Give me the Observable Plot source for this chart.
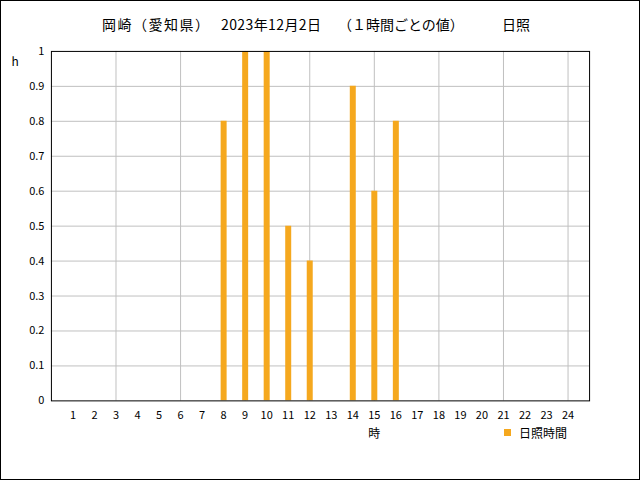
<!DOCTYPE html>
<html>
<head>
<meta charset="utf-8">
<script src="https://cdn.jsdelivr.net/npm/d3@7"></script>
<script src="https://cdn.jsdelivr.net/npm/@observablehq/plot@0.6"></script>
<style>
  html, body { margin: 0; padding: 0; background: #fff; }
  #wrap { position: relative; width: 640px; height: 480px; box-sizing: border-box; border: 1px solid #000; overflow: hidden; font-family: "Noto Sans CJK JP", sans-serif; }
  .tseg { position: absolute; top: 13px; font-size: 14px; white-space: pre; color: #000; line-height: 20px; }
  #chart { position: absolute; left: -1px; top: -1px; }
  #legend { position: absolute; left: 503px; top: 423px; font-size: 12px; white-space: pre; display: flex; align-items: center; }
  #legend .sw { width: 7px; height: 7px; background: #f5a81e; margin-right: 8px; }
</style>
</head>
<body>
<div id="wrap">
  <div id="chart"></div>
  <div id="legend"><span class="sw"></span><span id="legtext"></span></div>
</div>
<script>
const titleParts = ["岡崎（愛知県）", "2023年12月2日", "（１時間ごとの値）", "日照"];
const hours = d3.range(1, 25);
const sunshine = [0,0,0,0,0,0,0,0.8,1.0,1.0,0.5,0.4,0,0.9,0.6,0.8,0,0,0,0,0,0,0,0];
const xTicks = d3.range(1, 25);
const xGrid = [3,6,9,12,15,18,21,24];
const yTicks = [0,0.1,0.2,0.3,0.4,0.5,0.6,0.7,0.8,0.9,1];
const yUnit = "h";
const xUnit = "時";
const seriesName = "日照時間";
const barColor = "#f5a81e";

const data = hours.map((h, i) => ({hour: h, value: sunshine[i]})).filter(d => d.value > 0);

const wrap = document.getElementById("wrap");
const segLefts = [101, 220, 337, 501];
const segSpacing = [1.5, 0.4, 0, 0];
titleParts.forEach((t, i) => {
  const s = document.createElement("div");
  s.className = "tseg";
  s.style.left = segLefts[i] + "px";
  s.style.letterSpacing = segSpacing[i] + "px";
  s.textContent = t;
  wrap.appendChild(s);
});
document.getElementById("legtext").textContent = seriesName;

const fontFam = "Noto Sans CJK JP, sans-serif";
const chart = Plot.plot({
  width: 640,
  height: 480,
  marginLeft: 51,
  marginRight: 50,
  marginTop: 51,
  marginBottom: 79,
  style: {fontFamily: fontFam, fontSize: "11px", color: "#000", background: "transparent"},
  x: {domain: [0, 25], axis: null},
  y: {domain: [0, 1], axis: null},
  marks: [
    Plot.gridY(yTicks.slice(1, -1), {stroke: "#c0c0c0", strokeOpacity: 1}),
    Plot.gridX(xGrid, {stroke: "#c0c0c0", strokeOpacity: 1}),
    Plot.ruleX(data, {x: "hour", y1: 0, y2: "value", stroke: barColor, strokeWidth: 6}),
    Plot.frame({stroke: "#000"}),
    Plot.axisX(xTicks, {tickSize: 0, tickPadding: 10, label: null, fontSize: 11}),
    Plot.axisY(yTicks, {tickSize: 0, tickPadding: 7, label: null, fontSize: 11, tickFormat: d => String(+d.toFixed(1))}),
    Plot.text([yUnit], {frameAnchor: "top-left", dx: -40, dy: 6, text: d => d, fontSize: 12}),
    Plot.text([xUnit], {x: 15, y: 0, dy: 33, text: d => d, fontSize: 12})
  ]
});
document.getElementById("chart").appendChild(chart);
</script>
</body>
</html>
